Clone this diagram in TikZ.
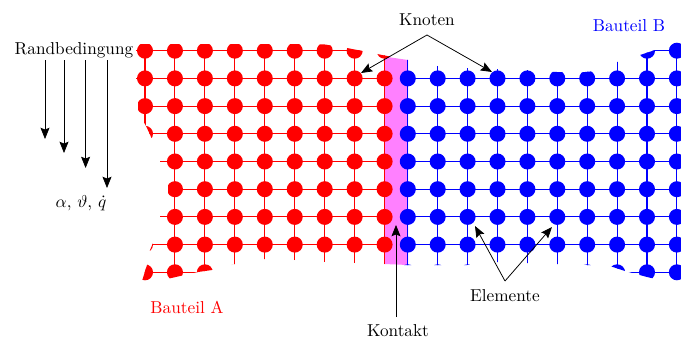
\documentclass[tikz,border=0pt]{standalone}
\usetikzlibrary{arrows.meta}
\definecolor{contactpink}{RGB}{255,128,255}
\tikzset{
  px/.style={x=0.58pt,y=-0.58pt},
  rknot/.style={circle,fill=red,inner sep=0pt,minimum size=9.3pt},
  bknot/.style={circle,fill=blue,inner sep=0pt,minimum size=9.3pt},
  rmesh/.style={draw=red,line width=0.62pt},
  bmesh/.style={draw=blue,line width=0.62pt},
  pointer/.style={draw=black,line width=0.45pt,-{Stealth[length=6.5pt,width=5.2pt,inset=1pt]}},
  label/.style={inner sep=0pt,text=black}
}
\begin{document}
\begin{tikzpicture}[px]
\useasboundingbox (0,0) rectangle (681,337);
\fill[contactpink] (384,56.5) -- (408,60) -- (408,265) -- (384,264) -- cycle;
% part A
\begin{scope}
\clip (136,44) -- (295,44) -- (325,44.5) -- (347,48) -- (365,51.5) -- (377,54) -- (408,60)
  -- (408,265) -- (385,264) -- (355,263) -- (325,262) -- (295,260) -- (265,259) -- (235,264)
  -- (212,270) -- (198,272) -- (167,279) -- (142,281) -- (147,265) -- (150,250) -- (153,243)
  -- (160,225) -- (160,210) -- (168,195) -- (168,183) -- (160,170) -- (160,155) -- (152,139)
  -- (146,126) -- (138,112) -- (138,98) -- (136,85) -- cycle;
\foreach \i in {0,...,8}
  \foreach \j in {0,...,8}
    \coordinate (r\i-\j) at ({145+29.95*\i},{50.7+27.7*\j});
\foreach \j in {0,...,8} {
  \coordinate (rl\j) at (115,{50.7+27.7*\j});
  \draw[rmesh] (rl\j) -- (r8-\j);
}
\foreach \i in {0,...,8}
  \draw[rmesh] (r\i-0) -- (r\i-8);
\foreach \i in {0,...,8}
  \foreach \j in {0,...,8}
    \node[rknot] (rn\i-\j) at (r\i-\j) {};
\end{scope}
% part B
\begin{scope}
\clip (398,59) -- (408,60) -- (437,66) -- (467,68) -- (497,69) -- (527,70) -- (545,71.5) -- (557,72)
  -- (580,72.5) -- (590,71.5) -- (610,69) -- (617,62) -- (625,60) -- (640,55) -- (655,50) -- (665,42) -- (681,42)
  -- (681,282) -- (660,280) -- (647,277) -- (625,271) -- (610,266) -- (587,265) -- (557,264)
  -- (527,263) -- (497,262) -- (467,265) -- (437,265) -- (408,265) -- (398,265) -- cycle;
\foreach \i in {0,...,9}
  \foreach \j in {0,...,8}
    \coordinate (b\i-\j) at ({407.8+29.9*\i},{50.7+27.7*\j});
\foreach \j in {0,...,8} {
  \coordinate (br\j) at (700,{50.7+27.7*\j});
  \draw[bmesh] (b0-\j) -- (br\j);
}
\foreach \i in {0,...,9}
  \draw[bmesh] (b\i-0) -- (b\i-8);
\foreach \i in {0,...,9}
  \foreach \j in {0,...,8}
    \node[bknot] (bn\i-\j) at (b\i-\j) {};
\end{scope}
% labels
\node[label] (rand) at (74,50) {Randbedingung};
\node[label] (bc) at (81,203) {$\alpha$, $\vartheta$, $\dot q$};
\node[label] (knoten) at (427,20) {Knoten};
\node[label] (elem) at (505,296) {Elemente};
\node[label] (kontakt) at (398,330.5) {Kontakt};
\node[inner sep=0pt,text=red] (ba) at (187,307) {Bauteil A};
\node[inner sep=0pt,text=blue] (bb) at (629,26) {Bauteil B};
% pointers
\foreach \x/\y/\n in {45/139/a,64/153/b,85.6/168/c,107/188/d} {
  \coordinate (s\n) at (\x,60);
  \coordinate (e\n) at (\x,\y);
  \draw[pointer] (s\n) -- (e\n);
}
\coordinate (kn) at (427,35);
\coordinate (ka) at (361,73);
\coordinate (kb) at (492,72);
\draw[pointer] (kn) -- (ka);
\draw[pointer] (kn) -- (kb);
\coordinate (el) at (505,281);
\coordinate (ea) at (475,226);
\coordinate (eb) at (552,227);
\draw[pointer] (el) -- (ea);
\draw[pointer] (el) -- (eb);
\coordinate (kos) at (396,317);
\coordinate (koe) at (396,225);
\draw[pointer] (kos) -- (koe);
\end{tikzpicture}
\end{document}
